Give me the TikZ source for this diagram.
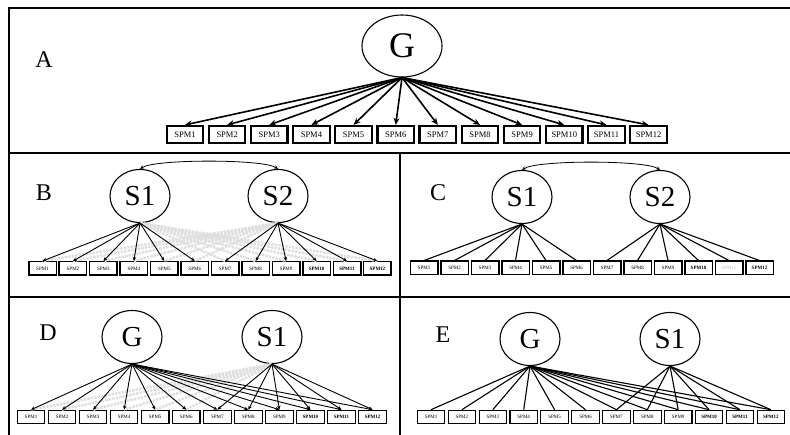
\documentclass[tikz,border=0pt]{standalone}
\usepackage{fontspec}
\setmainfont{Liberation Serif}
\usetikzlibrary{shapes.geometric,arrows.meta}
\tikzset{
  lat/.style={ellipse,draw,line width=1.1pt,inner sep=0pt},
  latA/.style={lat,minimum width=80pt,minimum height=62pt,font=\fontsize{36}{36}\selectfont},
  latS/.style={lat,minimum width=60pt,minimum height=53pt,font=\fontsize{29}{29}\selectfont},
  bigbox/.style={draw,line width=2.2pt,minimum width=36.5pt,minimum height=17pt,inner sep=0pt,font=\fontsize{8.5}{9}\selectfont},
  smallbox/.style={draw,line width=1.5pt,minimum width=27.5pt,minimum height=13.5pt,inner sep=0pt,font=\fontsize{5}{6}\selectfont},
  frameline/.style={line width=1.6pt},
  loadA/.style={line width=1.6pt,-{Stealth[length=7pt,width=6pt]}},
  loadB/.style={line width=0.9pt,-{Stealth[length=4pt,width=3.5pt]}},
  loadC/.style={line width=1.1pt},
  ghost/.style={gray!25,line width=2.5pt,dash pattern=on 2.5pt off 1pt},
  covar/.style={line width=0.8pt,{Stealth[length=4pt,width=3.5pt]}-{Stealth[length=4pt,width=3.5pt]}},
  panel/.style={font=\fontsize{24}{24}\selectfont},
}
\begin{document}
\begin{tikzpicture}[x=1pt,y=-1pt]
\useasboundingbox (0,0) rectangle (790,435);
% frame
\draw[frameline] (790,8) -- (9,8) -- (9,435);
\draw[frameline] (9,153) -- (790,153);
\draw[frameline] (9,297) -- (790,297);
\draw[frameline] (400,153) -- (400,435);

% ---------------- Panel A
\node[panel] (lA) at (44,60) {A};
\node[latA] (GA) at (402,46) {G};
\foreach \i in {1,...,12}
  \node[bigbox] (a\i) at ({185+42.14*(\i-1)},134.5) {SPM\i};
\foreach \i in {1,...,12}
  \draw[loadA] (GA.south) -- (a\i.north);

% ---------------- Panel B
\node[panel] (lB) at (44,193) {B};
\node[latS] (BS1) at (140,196) {S1};
\node[latS] (BS2) at (278,196) {S2};
\foreach \i in {1,...,12}{
  \ifnum\i>9 \def\ff{\bfseries}\else\def\ff{}\fi
  \node[smallbox] (b\i) at ({42.5+30.45*(\i-1)},268.5) {\ff SPM\i};
}
\foreach \i in {7,...,12}
  \draw[ghost] (BS1.south) -- (b\i.north);
\foreach \i in {1,...,6}
  \draw[ghost] (BS2.south) -- (b\i.north);
\foreach \i in {1,...,6}
  \draw[loadB] (BS1.south) -- (b\i.north);
\foreach \i in {7,...,12}
  \draw[loadB] (BS2.south) -- (b\i.north);
\draw[covar] (BS1.north) .. controls +(15,-10) and +(-15,-10) .. (BS2.north);

% ---------------- Panel C
\node[panel] (lC) at (438,193) {C};
\node[latS] (CS1) at (522,197) {S1};
\node[latS] (CS2) at (660,197) {S2};
\foreach \i in {1,...,12}{
  \ifnum\i=10 \def\ff{\bfseries}\else\ifnum\i=12 \def\ff{\bfseries}\else\ifnum\i=11 \def\ff{\color{gray!50}}\else\def\ff{}\fi\fi\fi
  \node[smallbox] (c\i) at ({424+30.5*(\i-1)},268) {\ff SPM\i};
}
\foreach \i in {1,...,6}
  \draw[loadC] (CS1.south) -- (c\i.north);
\foreach \i in {7,...,12}
  \draw[loadC] (CS2.south) -- (c\i.north);
\draw[covar] (CS1.north) .. controls +(15,-10) and +(-15,-10) .. (CS2.north);

% ---------------- Panel D
\node[panel] (lD) at (48,333) {D};
\node[latS] (DG) at (132,337) {G};
\node[latS] (DS) at (272,337) {S1};
\foreach \i in {1,...,12}{
  \ifnum\i>9 \def\ff{\bfseries}\else\def\ff{}\fi
  \node[smallbox,line width=1.1pt] (d\i) at ({31+31.05*(\i-1)},417) {\ff SPM\i};
}
\foreach \i in {1,...,6}
  \draw[ghost] (DS.south) -- (d\i.north);
\foreach \i in {1,...,12}
  \draw[loadB] (DG.south) -- (d\i.north);
\foreach \i in {7,...,12}
  \draw[loadB] (DS.south) -- (d\i.north);

% ---------------- Panel E
\node[panel] (lE) at (443,335) {E};
\node[latS] (EG) at (530,339) {G};
\node[latS] (ES) at (670,339) {S1};
\foreach \i in {1,...,12}{
  \ifnum\i>9 \def\ff{\bfseries}\else\def\ff{}\fi
  \node[smallbox,line width=1.1pt] (e\i) at ({431+30.9*(\i-1)},417) {\ff SPM\i};
}
\foreach \i in {1,...,12}
  \draw[loadC] (EG.south) -- (e\i.north);
\foreach \i in {7,...,12}
  \draw[loadC] (ES.south) -- (e\i.north);
\end{tikzpicture}
\end{document}
